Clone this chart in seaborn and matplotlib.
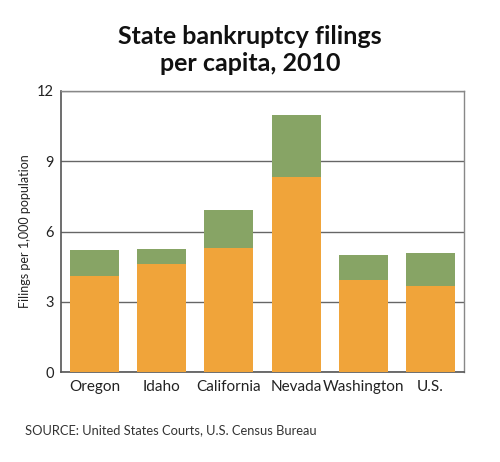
import matplotlib
matplotlib.use("Agg")
import matplotlib.pyplot as plt
import seaborn as sns
import pandas as pd

states = ["Oregon", "Idaho", "California", "Nevada", "Washington", "U.S."]
lower_values = [4.10, 4.63, 5.31, 8.33, 3.93, 3.69]
upper_values = [1.11, 0.63, 1.60, 2.64, 1.06, 1.41]
y_ticks = [0, 3, 6, 9, 12]

totals = [a + b for a, b in zip(lower_values, upper_values)]
df = pd.DataFrame({"state": states, "lower": lower_values, "total": totals})

sns.set_theme(style="white")
plt.rcParams['font.family'] = ['Lato', 'DejaVu Sans']

fig = plt.figure(figsize=(5.0, 4.62), dpi=100)
ax = fig.add_axes([61/500, 1 - 372/462, 403/500, 281/462])

orange = "#F0A43A"
green = "#87A465"

sns.barplot(data=df, x="state", y="total", color=green, saturation=1, width=0.73, ax=ax,
            linewidth=0, edgecolor="none", zorder=3)
sns.barplot(data=df, x="state", y="lower", color=orange, saturation=1, width=0.73, ax=ax,
            linewidth=0, edgecolor="none", zorder=3)

ax.set_xlim(-0.5, 5.5)
ax.set_ylim(0, 12)
ax.set_yticks(y_ticks)
ax.set_yticklabels([str(t) for t in y_ticks], fontsize=10.5, color="#222222")
ax.tick_params(axis="x", labelsize=11, colors="#222222", length=0, pad=6)
ax.tick_params(axis="y", length=0, pad=5)
ax.yaxis.grid(True, color="#666666", linewidth=1.0, zorder=0)
ax.set_axisbelow(True)
ax.set_xlabel("")
ax.set_ylabel("Filings per 1,000 population", fontsize=9, color="#222222", labelpad=4)

for side in ["top", "right"]:
    ax.spines[side].set_color("#888888")
    ax.spines[side].set_linewidth(1.0)
for side in ["left", "bottom"]:
    ax.spines[side].set_color("#555555")
    ax.spines[side].set_linewidth(1.2)

fig.text(0.5, 1 - 50/462, "State bankruptcy filings\nper capita, 2010", ha="center", va="center",
         fontsize=18, fontweight="bold", color="#111111", linespacing=1.2)
fig.text(25/500, 1 - 430/462, "SOURCE: United States Courts, U.S. Census Bureau", ha="left", va="center",
         fontsize=9.3, color="#333333")

fig.savefig("out.png", dpi=100)
